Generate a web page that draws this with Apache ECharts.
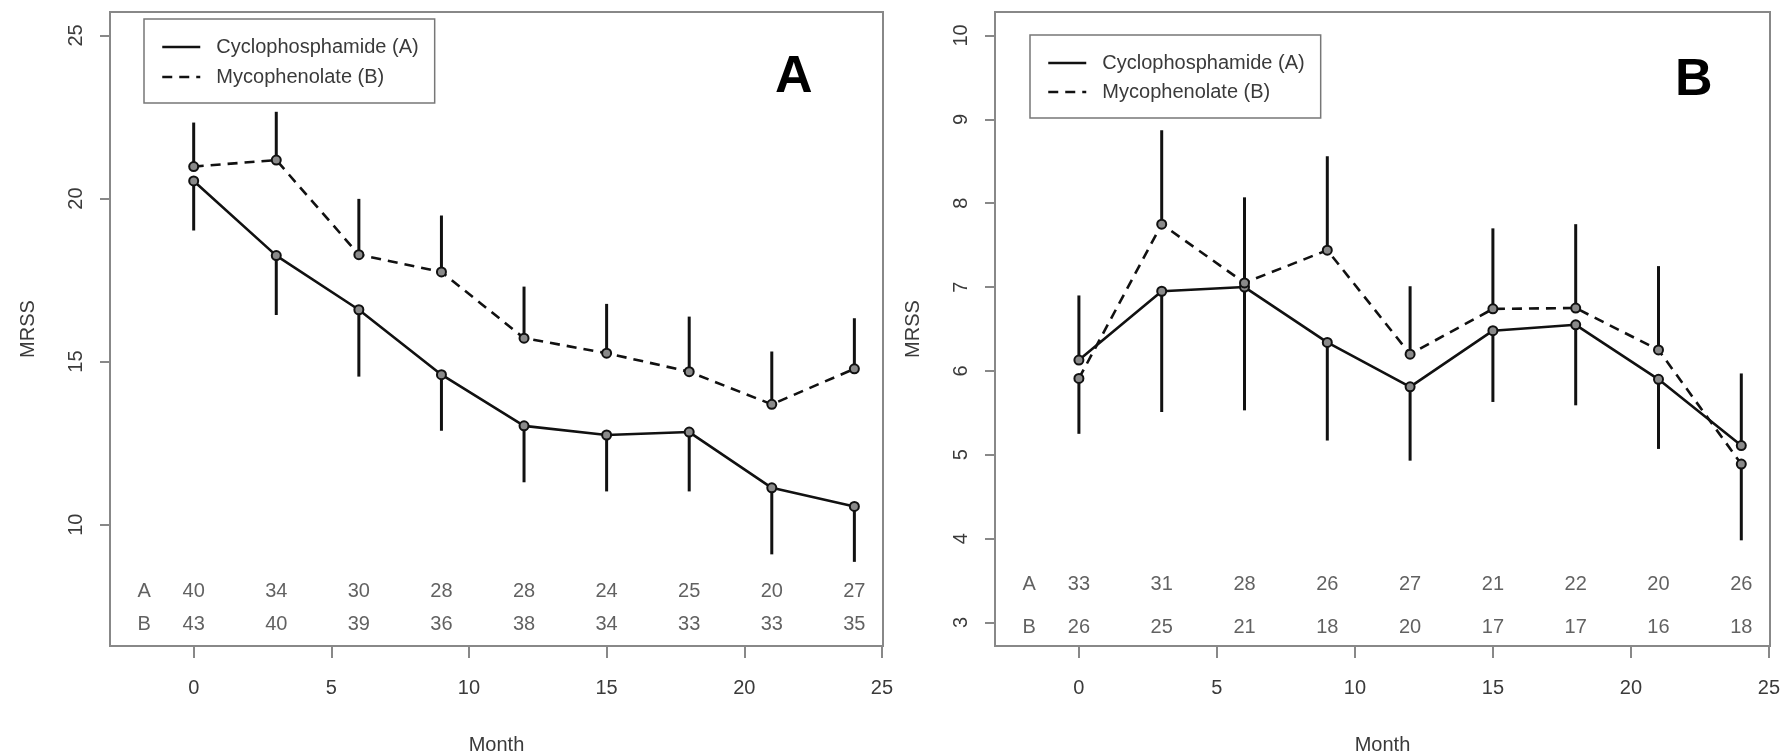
<!DOCTYPE html>
<html>
<head>
<meta charset="utf-8">
<script src="https://cdn.jsdelivr.net/npm/echarts@6/dist/echarts.min.js"></script>
<style>
  html, body { margin: 0; padding: 0; background: #fff; }
  #chart { width: 1783px; height: 755px; }
</style>
</head>
<body>
<div id="chart"></div>
<script>
// ---------- data ----------
const months = [0, 3, 6, 9, 12, 15, 18, 21, 24];
const seriesNames = ['Cyclophosphamide (A)', 'Mycophenolate (B)'];

// Panel A
const panelA_cyc = [20.54, 18.25, 16.59, 14.60, 13.03, 12.75, 12.84, 11.13, 10.56];
const panelA_cycBarEnd = [19.02, 16.43, 14.54, 12.88, 11.30, 11.02, 11.02, 9.09, 8.86];
const panelA_myc = [20.98, 21.18, 18.28, 17.75, 15.72, 15.26, 14.69, 13.69, 14.78];
const panelA_mycBarEnd = [22.33, 22.66, 19.99, 19.48, 17.30, 16.77, 16.38, 15.31, 16.33];
const panelA_nA = ['40', '34', '30', '28', '28', '24', '25', '20', '27'];
const panelA_nB = ['43', '40', '39', '36', '38', '34', '33', '33', '35'];

// Panel B
const panelB_cyc = [6.13, 6.95, 7.00, 6.34, 5.81, 6.48, 6.55, 5.90, 5.11];
const panelB_cycBarEnd = [6.90, 5.51, 5.53, 5.17, 4.93, 5.63, 5.59, 5.07, 5.97];
const panelB_myc = [5.91, 7.75, 7.05, 7.44, 6.20, 6.74, 6.75, 6.25, 4.89];
const panelB_mycBarEnd = [5.25, 8.87, 8.07, 8.56, 7.01, 7.70, 7.75, 7.25, 3.98];
const panelB_nA = ['33', '31', '28', '26', '27', '21', '22', '20', '26'];
const panelB_nB = ['26', '25', '21', '18', '20', '17', '17', '16', '18'];

// tick labels
const xTicks = [0, 5, 10, 15, 20, 25];
const yTicksA = [10, 15, 20, 25];
const yTicksB = [3, 4, 5, 6, 7, 8, 9, 10];
const rowLabels = ['A', 'B'];

// ---------- layout constants ----------
const FONT = 'Liberation Sans, Arial, sans-serif';
const TXT = '#3a3a3a';
const X_MIN = -3.04, X_MAX = 25.04;
const ROW_LABEL_X = -1.8;
const rowYA = [7.95, 6.95];
const rowYB = [3.45, 2.94];

function xAxis(gi) {
  return {
    type: 'value', gridIndex: gi, min: X_MIN, max: X_MAX,
    name: 'Month', nameLocation: 'middle', nameGap: 89,
    nameTextStyle: { fontSize: 20, color: TXT, fontFamily: FONT },
    axisLine: { show: false, onZero: false },
    axisTick: { show: true, length: 12, customValues: xTicks, lineStyle: { color: '#888', width: 2 } },
    axisLabel: { customValues: xTicks, fontSize: 20, color: TXT, fontFamily: FONT, margin: 32 },
    splitLine: { show: false }
  };
}
function yAxis(gi, min, max, ticks) {
  return {
    type: 'value', gridIndex: gi, min: min, max: max,
    name: 'MRSS', nameLocation: 'middle', nameGap: 72, nameRotate: 90,
    nameTextStyle: { fontSize: 20, color: TXT, fontFamily: FONT },
    axisLine: { show: false, onZero: false },
    axisTick: { show: true, length: 10, customValues: ticks, lineStyle: { color: '#888', width: 2 } },
    axisLabel: { customValues: ticks, rotate: 90, fontSize: 20, color: TXT, fontFamily: FONT, margin: 24 },
    splitLine: { show: false }
  };
}

function lineSeries(gi, name, vals, dashed) {
  return {
    type: 'line', name: name, xAxisIndex: gi, yAxisIndex: gi,
    data: months.map((m, i) => [m, vals[i]]),
    symbol: 'circle', symbolSize: 9,
    itemStyle: { color: '#8a8a8a', borderColor: '#111', borderWidth: 2 },
    lineStyle: { color: '#111', width: 2.6, type: dashed ? [10, 7] : 'solid' },
    z: 5, silent: true
  };
}
function barSeries(gi, vals, ends) {
  return {
    type: 'custom', xAxisIndex: gi, yAxisIndex: gi,
    data: months.map((m, i) => [m, vals[i], ends[i]]),
    encode: { x: 0, y: [1, 2] },
    renderItem: function (params, api) {
      const p0 = api.coord([api.value(0), api.value(1)]);
      const p1 = api.coord([api.value(0), api.value(2)]);
      return { type: 'line', shape: { x1: p0[0], y1: p0[1], x2: p1[0], y2: p1[1] },
               style: { stroke: '#111', lineWidth: 3 } };
    },
    z: 3, silent: true
  };
}
function textSeries(gi, points) {
  return {
    type: 'scatter', xAxisIndex: gi, yAxisIndex: gi, symbolSize: 0, silent: true,
    data: points,
    label: { show: true, position: 'inside', formatter: p => p.data[2],
             fontSize: 20, color: TXT, fontFamily: FONT },
    z: 2
  };
}
function riskPoints(rowY, nA, nB) {
  const pts = [];
  pts.push([ROW_LABEL_X, rowY[0], rowLabels[0]]);
  pts.push([ROW_LABEL_X, rowY[1], rowLabels[1]]);
  months.forEach((m, i) => { pts.push([m, rowY[0], nA[i]]); pts.push([m, rowY[1], nB[i]]); });
  return pts;
}

function legend(left, top, gap) {
  return {
    data: seriesNames, orient: 'vertical', left: left, top: top,
    itemWidth: 38, itemHeight: 3, itemGap: gap,
    padding: [18, 16, 16, 17],
    borderColor: '#777', borderWidth: 1.5, backgroundColor: '#fff',
    itemStyle: { opacity: 0 },
    lineStyle: { width: 2.5 },
    formatter: name => '  ' + name,
    textStyle: { fontSize: 20, color: TXT, fontFamily: FONT, lineHeight: 20 },
    selectedMode: false
  };
}

const chart = echarts.init(document.getElementById('chart'), null, { renderer: 'canvas' });
chart.setOption({
  animation: false,
  backgroundColor: '#fff',
  grid: [
    { left: 110, top: 12, width: 773, height: 634, outerBoundsMode: 'none', containLabel: false,
      show: true, borderColor: '#888', borderWidth: 2, backgroundColor: 'transparent' },
    { left: 995, top: 12, width: 775, height: 634, outerBoundsMode: 'none', containLabel: false,
      show: true, borderColor: '#888', borderWidth: 2, backgroundColor: 'transparent' }
  ],
  xAxis: [xAxis(0), xAxis(1)],
  yAxis: [yAxis(0, 6.28, 25.72, yTicksA), yAxis(1, 2.72, 10.28, yTicksB)],
  legend: [legend(144, 19, 10), legend(1030, 35, 9)],
  graphic: [
    { type: 'text', left: 775, top: 52, style: { text: 'A', font: 'bold 52px ' + FONT, fill: '#000' } },
    { type: 'text', left: 1675, top: 55, style: { text: 'B', font: 'bold 52px ' + FONT, fill: '#000' } }
  ],
  series: [
    barSeries(0, panelA_cyc, panelA_cycBarEnd),
    barSeries(0, panelA_myc, panelA_mycBarEnd),
    lineSeries(0, seriesNames[0], panelA_cyc, false),
    lineSeries(0, seriesNames[1], panelA_myc, true),
    textSeries(0, riskPoints(rowYA, panelA_nA, panelA_nB)),
    barSeries(1, panelB_cyc, panelB_cycBarEnd),
    barSeries(1, panelB_myc, panelB_mycBarEnd),
    lineSeries(1, seriesNames[0], panelB_cyc, false),
    lineSeries(1, seriesNames[1], panelB_myc, true),
    textSeries(1, riskPoints(rowYB, panelB_nA, panelB_nB))
  ]
});
</script>
</body>
</html>
